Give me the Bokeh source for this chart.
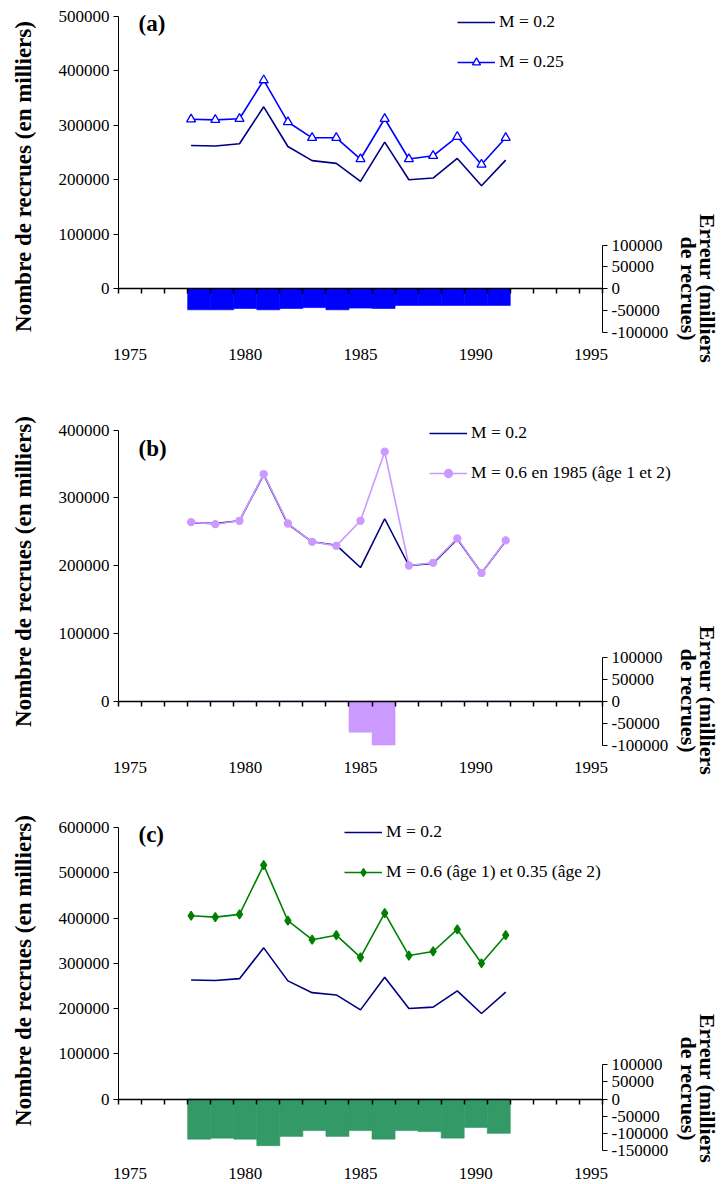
import numpy as np
from bokeh.plotting import figure
from bokeh.models import (Range1d, LinearAxis, FixedTicker, NumeralTickFormatter,
                          CustomJSTickFormatter, Label, Legend, LegendItem)
from bokeh.embed import file_html
from bokeh.resources import INLINE

# ---------------- data ----------------
years = [1978, 1979, 1980, 1981, 1982, 1983, 1984, 1985, 1986, 1987, 1988, 1989, 1990, 1991]

recrues_m020 = [263000, 262000, 266000, 334000, 261000, 235000, 230000, 197000, 269000,
                200000, 203000, 239000, 189000, 236000]
recrues_m025 = [311000, 310000, 312000, 383000, 306000, 277000, 277000, 238000, 312000,
                238000, 244000, 279000, 228000, 277000]
recrues_m060_1985 = [264000, 261000, 266000, 335000, 262000, 235000, 229000, 266000, 368000,
                     200000, 204000, 240000, 189000, 237000]
recrues_m060_m035 = [405000, 402000, 408000, 517000, 394000, 352000, 362000, 313000, 411000,
                     317000, 326000, 375000, 300000, 362000]

erreur_a = [-49000, -49000, -46000, -49000, -46000, -44000, -49000, -45000, -46000,
            -39000, -39000, -39000, -39000, -39000]
erreur_b = [0, 0, 0, 0, 0, 0, 0, -71000, -100000, 0, 0, 0, 0, 0]
erreur_c = [-117000, -114000, -117000, -136000, -109000, -92000, -109000, -92000, -117000,
            -92000, -95000, -114000, -83000, -100000]

x_tick_labels = [1975, 1980, 1985, 1990, 1995]
category_edges = [1974.5 + i for i in range(22)]

# ---------------- layout constants (page pixels) ----------------
FONT = "Liberation Serif"
W, H = 728, 1182
PLOT_L, PLOT_R = 118, 602          # left / right axis positions
BAR_X = (1974.5, 1995.5)           # category axis of the error bars
LINE_X = (1975.0, 1995.0)          # axis of the recruitment lines
TICK_LEN = 5
NAVY = "#000080"

p = figure(width=W, height=H, x_range=Range1d(0, W), y_range=Range1d(H, 0),
           output_backend="svg", toolbar_location=None,
           x_axis_type=None, y_axis_type=None, min_border=0)
p.outline_line_color = None
p.background_fill_color = "white"


def stretch(lo, hi):
    ppu = (PLOT_R - PLOT_L) / (hi - lo)
    return Range1d(lo - PLOT_L / ppu, lo + (W - PLOT_L) / ppu)


p.extra_x_ranges = {"bar": stretch(*BAR_X), "line": stretch(*LINE_X)}
y_ranges = {}


def vrange(zero_px, ppu):
    return Range1d((zero_px - H) / ppu, zero_px / ppu)


def panel(k, zero_px, top_px, left_max, right_min, rmin_px, standoff, tag, tag_y,
          series, bars, bar_color, legend_x, legend_bottom, left_title_y, right_title_y):
    ppu_l = (zero_px - top_px) / left_max
    ppu_r = (rmin_px - zero_px) / (-right_min)
    ln, en = f"left_{k}", f"err_{k}"
    y_ranges[ln] = vrange(zero_px, ppu_l)
    y_ranges[en] = vrange(zero_px, ppu_r)
    p.extra_y_ranges = dict(y_ranges)

    p.vbar(x=years, top=bars, bottom=0, width=1.0, x_range_name="bar", y_range_name=en,
           fill_color=bar_color, line_color=bar_color, line_width=0.6)

    items = []
    for s in series:
        rl = p.line(years, s["values"], x_range_name="line", y_range_name=ln,
                    line_color=s["color"], line_width=1.6)
        rs = [rl]
        if s.get("marker"):
            rs.append(p.scatter(years, s["values"], x_range_name="line", y_range_name=ln,
                                marker=s["marker"], size=s["size"], fill_color=s["fill"],
                                line_color=s["color"], line_width=1.3))
        items.append(LegendItem(label=s["label"], renderers=rs))
    p.add_layout(Legend(items=items, location=(legend_x, H - legend_bottom),
                        orientation="vertical", glyph_width=38, glyph_height=20,
                        label_height=20, label_standoff=4, spacing=19, padding=0, margin=0,
                        border_line_color=None, background_fill_alpha=0,
                        label_text_font=FONT, label_text_font_size="17.5px",
                        label_text_color="black"))

    common = dict(major_label_text_font=FONT, major_label_text_font_size="17px",
                  major_label_text_color="black", axis_line_color="black",
                  major_tick_line_color="black", minor_tick_out=0, minor_tick_in=0)

    p.add_layout(LinearAxis(y_range_name=ln, fixed_location=PLOT_L,
                            ticker=FixedTicker(ticks=list(range(0, left_max + 1, 100000))),
                            formatter=NumeralTickFormatter(format="0"), bounds=(0, left_max),
                            major_tick_out=5, major_tick_in=0, major_label_standoff=4,
                            axis_line_width=1, **common), "left")
    p.add_layout(LinearAxis(y_range_name=en, fixed_location=PLOT_R,
                            ticker=FixedTicker(ticks=list(range(right_min, 100001, 50000))),
                            formatter=NumeralTickFormatter(format="0"),
                            bounds=(right_min, 100000), major_tick_out=5, major_tick_in=0,
                            major_label_standoff=4, axis_line_width=1, **common), "right")

    # zero line with the category tick marks hanging below it
    p.add_layout(LinearAxis(x_range_name="bar", y_range_name=ln, fixed_location=0,
                            bounds=BAR_X, ticker=FixedTicker(ticks=category_edges),
                            formatter=CustomJSTickFormatter(code="return ''"),
                            major_tick_out=TICK_LEN, major_tick_in=0, minor_tick_out=0,
                            minor_tick_in=0, major_tick_line_color="black",
                            major_tick_line_width=1.5, major_label_standoff=0,
                            axis_line_color="black", axis_line_width=1.5), "below")
    # year labels
    p.add_layout(LinearAxis(x_range_name="bar", y_range_name=en, fixed_location=right_min,
                            ticker=FixedTicker(ticks=x_tick_labels), axis_line_color=None,
                            major_tick_out=0, major_tick_in=0, minor_tick_out=0,
                            minor_tick_in=0, major_label_standoff=standoff,
                            major_label_text_font=FONT, major_label_text_font_size="17px",
                            major_label_text_color="black"), "below")

    p.add_layout(Label(x=138, y=tag_y, text=tag, text_align="left", text_baseline="middle",
                       text_font=FONT, text_font_style="bold", text_font_size="23px",
                       text_color="black"))
    p.add_layout(Label(x=23, y=left_title_y, text="Nombre de recrues (en milliers)",
                       angle=np.pi / 2, text_align="center", text_baseline="middle",
                       text_font=FONT, text_font_style="bold", text_font_size="23px",
                       text_color="black"))
    p.add_layout(Label(x=707, y=right_title_y, text="Erreur (milliers",
                       angle=-np.pi / 2, text_align="center", text_baseline="middle",
                       text_font=FONT, text_font_style="bold", text_font_size="22px",
                       text_color="black"))
    p.add_layout(Label(x=688, y=right_title_y, text="de recrues)",
                       angle=-np.pi / 2, text_align="center", text_baseline="middle",
                       text_font=FONT, text_font_style="bold", text_font_size="22px",
                       text_color="black"))


base = dict(label="M = 0.2", values=recrues_m020, color=NAVY)

panel("a", zero_px=288, top_px=16, left_max=500000, right_min=-100000, rmin_px=331.5,
      standoff=17, tag="(a)", tag_y=23,
      series=[base, dict(label="M = 0.25", values=recrues_m025, color="#0000FF",
                         marker="triangle", size=9, fill="white")],
      bars=erreur_a, bar_color="#0000FF", legend_x=457, legend_bottom=72,
      left_title_y=176, right_title_y=288)

panel("b", zero_px=700.5, top_px=429.5, left_max=400000, right_min=-100000, rmin_px=744.5,
      standoff=17, tag="(b)", tag_y=448,
      series=[base, dict(label="M = 0.6 en 1985 (âge 1 et 2)", values=recrues_m060_1985,
                         color="#CC99FF", marker="circle", size=7, fill="#CC99FF")],
      bars=erreur_b, bar_color="#CC99FF", legend_x=429, legend_bottom=483,
      left_title_y=571, right_title_y=700)

panel("c", zero_px=1098.5, top_px=827, left_max=600000, right_min=-150000, rmin_px=1150,
      standoff=17, tag="(c)", tag_y=834,
      series=[base, dict(label="M = 0.6 (âge 1) et 0.35 (âge 2)", values=recrues_m060_m035,
                         color="#008000", marker="diamond", size=9, fill="#008000")],
      bars=erreur_c, bar_color="#339966", legend_x=344, legend_bottom=882,
      left_title_y=970, right_title_y=1088)

open("out.html", "w").write(file_html(p, INLINE))
